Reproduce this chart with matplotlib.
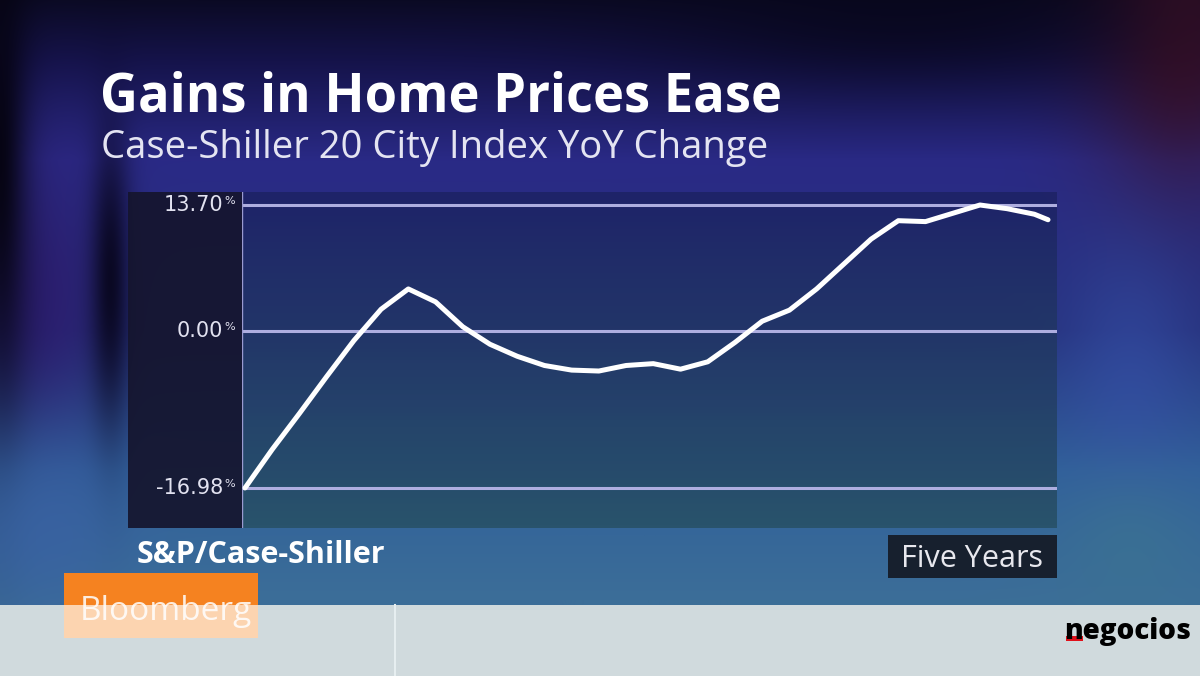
import numpy as np
import matplotlib.pyplot as plt
from matplotlib.patches import Rectangle

# Case-Shiller 20 City YoY change (month offset within five years)
months = [0, 2, 4, 6, 8, 10, 12, 14, 16, 18, 20, 22, 24, 26, 28, 30,
          32, 34, 36, 38, 40, 42, 44, 46, 48, 50, 52, 54, 56, 58, 59]
yoy = [-16.98, -12.8, -8.9, -4.9, -1.0, 2.4, 4.6, 3.2, 0.5, -1.4, -2.7,
       -3.7, -4.2, -4.3, -3.7, -3.5, -4.1, -3.3, -1.2, 1.1, 2.3, 4.6,
       7.3, 10.0, 12.0, 11.9, 12.8, 13.7, 13.3, 12.7, 12.1]
tick_values = [13.70, 0.00, -16.98]
tick_labels = ["13.70", "0.00", "-16.98"]

title = "Gains in Home Prices Ease"
subtitle = "Case-Shiller 20 City Index YoY Change"
source = "S&P/Case-Shiller"
period = "Five Years"

W, H = 1200, 676


def hex_rgb(h):
    h = h.lstrip("#")
    return np.array([int(h[i:i + 2], 16) / 255 for i in (0, 2, 4)])


def blob(img, cx, cy, sx, sy, color, strength):
    g = np.exp(-(((xx - cx) / sx) ** 2 + ((yy - cy) / sy) ** 2))[..., None] * strength
    return img * (1 - g) + hex_rgb(color) * g


# blurred studio backdrop behind the graphic
yy, xx = np.mgrid[0:H, 0:W].astype(float)
stops_y = [0, 60, 160, 330, 470, 600, 676]
stops_c = ["#0b0a24", "#15134a", "#2a2a86", "#26327e", "#30609a", "#3c6e98", "#3c6e98"]
cols = np.array([hex_rgb(c) for c in stops_c])
bg = np.stack([np.interp(yy, stops_y, cols[:, k]) for k in range(3)], axis=-1)
bg = blob(bg, 1180, 40, 90, 160, "#3a1026", 0.9)
bg = blob(bg, 900, 20, 260, 70, "#07061a", 0.7)
bg = blob(bg, 40, 300, 70, 140, "#2c1a6c", 0.8)
bg = blob(bg, 0, 160, 28, 260, "#05030f", 0.95)
bg = blob(bg, 110, 280, 20, 150, "#07051a", 0.9)
bg = blob(bg, 40, 530, 90, 90, "#3a62a4", 0.7)
bg = blob(bg, 1130, 380, 70, 140, "#3550a8", 0.6)
bg = blob(bg, 1130, 540, 80, 80, "#3c7690", 0.6)
bg = np.clip(bg, 0, 1)

fig = plt.figure(figsize=(W / 100, H / 100), dpi=100)
bga = fig.add_axes([0, 0, 1, 1])
bga.imshow(bg, extent=[0, W, H, 0], aspect="auto")
bga.set_xlim(0, W)
bga.set_ylim(H, 0)
bga.axis("off")

# titles
bga.text(100, 112, title, color="white", fontsize=37.8, fontweight="bold",
         family="Open Sans")
bga.text(101, 158, subtitle, color="#e4e4f2", fontsize=27.5, family="Open Sans")

# label strip and chart frame
bga.add_patch(Rectangle((128, 192), 114, 336, color="#15152e", alpha=0.92, lw=0))

ax = fig.add_axes([242 / W, 1 - 528 / H, 815 / W, 336 / H])
ax.set_facecolor("none")
grad = np.linspace(0, 1, 100)[:, None]
top_c, bot_c = hex_rgb("#1e2366"), hex_rgb("#285268")
panel = top_c * (1 - grad[..., None]) + bot_c * grad[..., None]
ax.imshow(panel, extent=[0, 1, 0, 1], transform=ax.transAxes, aspect="auto",
          zorder=0, alpha=0.92)
ax.set_xlim(-0.22, 59.66)
ax.set_ylim(-21.32, 15.11)
for v in tick_values:
    ax.axhline(v, color="#aeaee0", lw=2.2, zorder=1)
ax.plot(months, yoy, color="white", lw=3.6, solid_joinstyle="round",
        solid_capstyle="round", zorder=3)
ax.axvline(-0.22, color="#9a9ad0", lw=1.0, zorder=2)
for s in ax.spines.values():
    s.set_visible(False)
ax.set_xticks([])
ax.set_yticks([])

for v, lab in zip(tick_values, tick_labels):
    ax.annotate(lab, (0, v), xycoords=ax.get_yaxis_transform(),
                xytext=(-19, 0), textcoords="offset pixels", ha="right",
                va="center", color="#e2e2f0", fontsize=15, family="DejaVu Sans")
    ax.annotate("%", (0, v), xycoords=ax.get_yaxis_transform(),
                xytext=(-18, 4), textcoords="offset pixels", ha="left",
                va="center", color="#e2e2f0", fontsize=8, family="DejaVu Sans")

# source and period captions
bga.text(137, 563, source, color="white", fontsize=22, fontweight="bold",
         family="Open Sans")
bga.add_patch(Rectangle((888, 535), 169, 43, color="#17202e", lw=0))
bga.text(972, 567, period, color="#e8e8ee", fontsize=22, family="Open Sans",
         ha="center")

# footer strip with Bloomberg tag and logo
bga.add_patch(Rectangle((64, 573), 194, 33, color="#f58220", lw=0))
bga.add_patch(Rectangle((0, 605), W, 71, color="#d0dadd", lw=0))
bga.add_patch(Rectangle((64, 605), 194, 33, color="#fcd4b0", lw=0))
bga.plot([395, 395], [605, 676], color="#e6eef0", lw=1.5)
bga.text(80, 620, "Bloomberg", color="white", alpha=0.85, fontsize=24,
         family="Open Sans")
bga.text(1064, 639, "negocios", color="black", fontsize=20, fontweight=800,
         family="Open Sans")
bga.add_patch(Rectangle((1066, 636), 17, 5, color="#e0101a", lw=0))

fig.savefig("out.png", dpi=100)
